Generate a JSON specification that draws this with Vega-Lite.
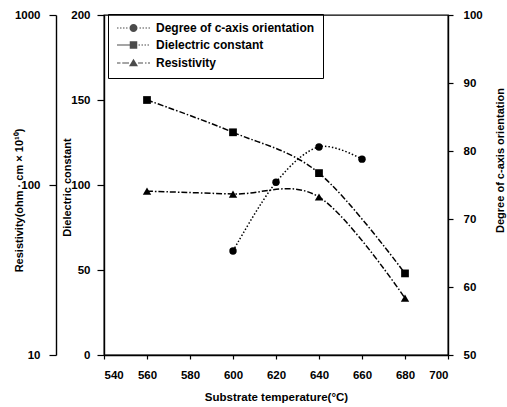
{
  "$schema": "https://vega.github.io/schema/vega-lite/v6.json",
  "width": 344,
  "height": 340,
  "autosize": "none",
  "padding": {"left": 104, "top": 15, "right": 59, "bottom": 52},
  "background": "white",
  "config": {
    "view": {"stroke": "black", "strokeWidth": 1.3},
    "font": "Liberation Sans",
    "axis": {
      "labelFont": "Liberation Sans", "labelFontWeight": "bold", "labelFontSize": 11.5, "labelColor": "black",
      "titleFont": "Liberation Sans", "titleFontWeight": "bold", "titleFontSize": 11, "titleColor": "black",
      "domainColor": "black", "tickColor": "black", "grid": false, "domainWidth": 1.4, "tickWidth": 1.2
    },
    "legend": {
      "labelFont": "Liberation Sans", "labelFontWeight": "bold", "labelFontSize": 12, "labelColor": "black"
    }
  },
  "datasets": {
    "diel": [
      {"T": 560, "v": 150, "s": "Dielectric constant"},
      {"T": 600, "v": 131, "s": "Dielectric constant"},
      {"T": 640, "v": 107, "s": "Dielectric constant"},
      {"T": 680, "v": 48, "s": "Dielectric constant"}
    ],
    "res": [
      {"T": 560, "v": 92, "s": "Resistivity"},
      {"T": 600, "v": 88.5, "s": "Resistivity"},
      {"T": 640, "v": 85, "s": "Resistivity"},
      {"T": 680, "v": 21.6, "s": "Resistivity"}
    ],
    "deg": [
      {"T": 600, "v": 65.3, "s": "Degree of c-axis orientation"},
      {"T": 620, "v": 75.4, "s": "Degree of c-axis orientation"},
      {"T": 640, "v": 80.6, "s": "Degree of c-axis orientation"},
      {"T": 660, "v": 78.8, "s": "Degree of c-axis orientation"}
    ]
  },
  "encoding": {
    "x": {
      "field": "T", "type": "quantitative",
      "scale": {"domain": [540, 700], "nice": false, "zero": false},
      "axis": {
        "values": [540, 560, 580, 600, 620, 640, 660, 680, 700],
        "tickSize": 4, "labelPadding": 10,
        "title": "Substrate temperature(°C)", "titleFontSize": 11.5, "titleY": 42, "titleBaseline": "middle"
      }
    }
  },
  "layer": [
    {
      "data": {"name": "diel"},
      "encoding": {
        "y": {
          "field": "v", "type": "quantitative",
          "scale": {"domain": [0, 200], "nice": false},
          "axis": {
            "orient": "left", "values": [0, 50, 100, 150, 200], "tickSize": 7, "labelPadding": 7,
            "title": "Dielectric constant", "titleAngle": -90, "titleX": -37, "titleY": 172,
            "titleAlign": "center", "titleBaseline": "middle"
          }
        }
      },
      "layer": [
        {"mark": {"type": "line", "interpolate": "cardinal", "color": "black", "strokeWidth": 1.5, "strokeDash": [6, 2, 1.5, 2]}},
        {"mark": {"type": "point", "shape": "square", "filled": true, "color": "black", "opacity": 1, "size": 60}}
      ]
    },
    {
      "data": {"name": "res"},
      "encoding": {
        "y": {
          "field": "v", "type": "quantitative",
          "scale": {"type": "log", "domain": [10, 1000], "nice": false},
          "axis": {
            "orient": "left", "offset": 48, "values": [10, 100, 1000], "format": "d", "tickSize": 7, "labelPadding": 9,
            "title": "Resistivity(ohm · cm × 10¹⁰)", "titleAngle": -90, "titleX": -37, "titleY": 185,
            "titleAlign": "center", "titleBaseline": "middle"
          }
        }
      },
      "layer": [
        {"mark": {"type": "line", "interpolate": "cardinal", "color": "black", "strokeWidth": 1.5, "strokeDash": [6, 2, 1.5, 2]}},
        {"mark": {"type": "point", "shape": "triangle-up", "filled": true, "color": "black", "opacity": 1, "size": 70}}
      ]
    },
    {
      "data": {"name": "deg"},
      "encoding": {
        "y": {
          "field": "v", "type": "quantitative",
          "scale": {"domain": [50, 100], "nice": false, "zero": false},
          "axis": {
            "orient": "right", "values": [50, 60, 70, 80, 90, 100], "tickSize": 5, "labelPadding": 10,
            "title": "Degree of c-axis orientation", "titleAngle": -90, "titleX": 52, "titleY": 145,
            "titleAlign": "center", "titleBaseline": "middle"
          }
        }
      },
      "layer": [
        {"mark": {"type": "line", "interpolate": "cardinal", "color": "black", "strokeWidth": 1.5, "strokeDash": [1.5, 2]}},
        {"mark": {"type": "point", "shape": "circle", "filled": true, "color": "black", "opacity": 1, "size": 55}},
        {
          "mark": {"type": "point", "filled": true, "color": "black", "size": 0},
          "encoding": {
            "shape": {
              "field": "s", "type": "nominal",
              "scale": {
                "domain": ["Degree of c-axis orientation", "Dielectric constant", "Resistivity"],
                "range": [
                  "M-1,-0.12H-0.7V0.12H-1ZM-0.4,-0.12H-0.1V0.12H-0.4ZM0.2,-0.12H0.5V0.12H0.2ZM0.8,-0.12H1.1V0.12H0.8ZM3.5,-0.12H3.8V0.12H3.5ZM4.1,-0.12H4.4V0.12H4.1ZM4.7,-0.12H5V0.12H4.7ZM5.3,-0.12H5.6V0.12H5.3ZM1.5,0A0.8,0.8,0,1,1,3.1,0A0.8,0.8,0,1,1,1.5,0Z",
                  "M-1,-0.12H1.55V0.12H-1ZM3.3,-0.12H3.6V0.12H3.3ZM3.9,-0.12H4.2V0.12H3.9ZM4.5,-0.12H4.8V0.12H4.5ZM5.1,-0.12H5.4V0.12H5.1ZM1.55,-0.75H3.05V0.75H1.55Z",
                  "M-1,-0.12H-0.3V0.12H-1ZM0.05,-0.12H1.4V0.12H0.05ZM3.2,-0.12H4.2V0.12H3.2ZM4.6,-0.12H4.9V0.12H4.6ZM5.2,-0.12H5.6V0.12H5.2ZM2.3,-0.85L3.2,0.65L1.4,0.65Z"
                ]
              },
              "legend": {
                "title": null, "orient": "none", "legendX": 4, "legendY": -1,
                "strokeColor": "black", "padding": 8, "rowPadding": 3, "labelOffset": 28,
                "symbolSize": 100, "symbolFillColor": "black"
              }
            }
          }
        }
      ]
    }
  ],
  "resolve": {"scale": {"y": "independent"}, "axis": {"y": "independent"}}
}
